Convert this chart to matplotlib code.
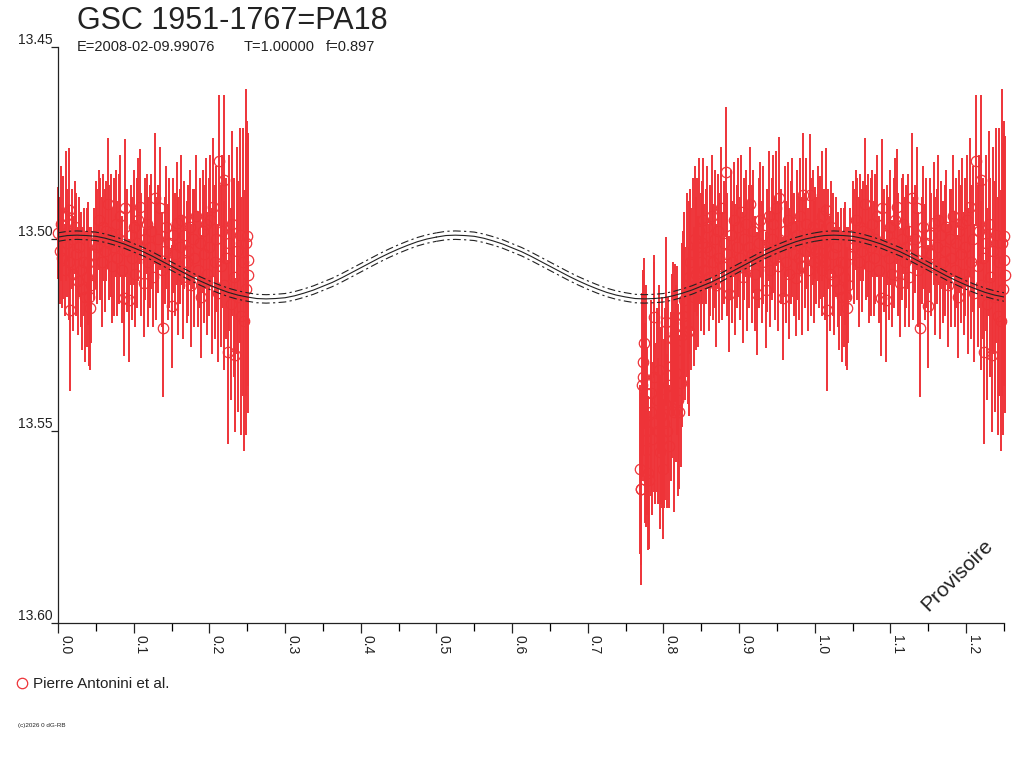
import numpy as np
import matplotlib
matplotlib.use("Agg")
import matplotlib.pyplot as plt
import matplotlib.transforms as mtransforms

plt.rcParams['font.family'] = ['Liberation Sans', 'DejaVu Sans']

RED = '#ee3338'

# first part of the cycle (also shown again at phase + 1)
phase_a = [0.000, 0.002, 0.004, 0.005, 0.007, 0.009, 0.010, 0.012, 0.014, 0.015,
           0.016, 0.018, 0.020, 0.022, 0.024, 0.026, 0.028, 0.030, 0.032, 0.034,
           0.036, 0.038, 0.040, 0.041, 0.042, 0.044, 0.047, 0.050, 0.052, 0.054,
           0.056, 0.058, 0.060, 0.062, 0.064, 0.066, 0.068, 0.070, 0.072, 0.074,
           0.076, 0.078, 0.080, 0.082, 0.085, 0.087, 0.089, 0.091, 0.094, 0.096,
           0.098, 0.100, 0.102, 0.104, 0.106, 0.108, 0.110, 0.113, 0.115, 0.117,
           0.119, 0.121, 0.123, 0.125, 0.128, 0.130, 0.132, 0.135, 0.137, 0.139,
           0.141, 0.143, 0.145, 0.147, 0.150, 0.152, 0.154, 0.157, 0.159, 0.161,
           0.163, 0.165, 0.167, 0.170, 0.172, 0.174, 0.176, 0.178, 0.180, 0.183,
           0.185, 0.187, 0.189, 0.191, 0.193, 0.195, 0.197, 0.199, 0.201, 0.203,
           0.205, 0.207, 0.209, 0.211, 0.213, 0.215, 0.217, 0.219, 0.220, 0.222,
           0.224, 0.226, 0.228, 0.230, 0.232, 0.234, 0.236, 0.238, 0.240, 0.242,
           0.244, 0.246, 0.248, 0.249, 0.250, 0.2505, 0.2508]
mag_a = [13.4985, 13.5030, 13.4960, 13.5050, 13.4995, 13.5080, 13.4940, 13.5010, 13.5060, 13.4924,
         13.5186, 13.5000, 13.5090, 13.4970, 13.5040, 13.5110, 13.5020, 13.5080, 13.5130, 13.5060,
         13.5150, 13.5100, 13.5063, 13.5150, 13.5180, 13.5120, 13.5040, 13.4990, 13.5020, 13.4950,
         13.5000, 13.5060, 13.4970, 13.5030, 13.4980, 13.4908, 13.5010, 13.4990, 13.5070, 13.5020,
         13.4960, 13.5050, 13.5000, 13.4940, 13.5080, 13.5154, 13.4920, 13.5030, 13.5160, 13.4990,
         13.5050, 13.4970, 13.5090, 13.5010, 13.4950, 13.4916, 13.5040, 13.5115, 13.5000, 13.4960,
         13.5060, 13.5020, 13.4980, 13.5100, 13.4893, 13.5050, 13.5000, 13.4920, 13.5080, 13.5232,
         13.5030, 13.4970, 13.5060, 13.5010, 13.5175, 13.4990, 13.5040, 13.4959, 13.5070, 13.5020,
         13.4950, 13.5100, 13.4990, 13.5060, 13.5030, 13.4970, 13.5120, 13.5000, 13.5050, 13.4940,
         13.5080, 13.5010, 13.5150, 13.4980, 13.5040, 13.4960, 13.5090, 13.5020, 13.4950, 13.5110,
         13.4916, 13.5060, 13.5000, 13.5140, 13.4796, 13.5070, 13.4980, 13.5120, 13.4846, 13.5050,
         13.5294, 13.5010, 13.5170, 13.4960, 13.5100, 13.5302, 13.5030, 13.5150, 13.4990, 13.5200,
         13.5060, 13.5213, 13.5010, 13.5130, 13.4993, 13.5054, 13.5093]
err_a = [0.012, 0.014, 0.015, 0.013, 0.016, 0.012, 0.017, 0.014, 0.015, 0.016,
         0.021, 0.013, 0.015, 0.012, 0.016, 0.014, 0.013, 0.015, 0.016, 0.014,
         0.017, 0.018, 0.016, 0.018, 0.016, 0.015, 0.012, 0.014, 0.015, 0.013,
         0.016, 0.017, 0.014, 0.016, 0.013, 0.017, 0.015, 0.016, 0.015, 0.018,
         0.014, 0.015, 0.017, 0.016, 0.014, 0.015, 0.018, 0.016, 0.016, 0.013,
         0.016, 0.015, 0.014, 0.017, 0.016, 0.015, 0.016, 0.014, 0.016, 0.013,
         0.017, 0.016, 0.015, 0.013, 0.017, 0.016, 0.014, 0.016, 0.015, 0.018,
         0.014, 0.016, 0.015, 0.017, 0.016, 0.015, 0.016, 0.016, 0.018, 0.015,
         0.017, 0.016, 0.014, 0.016, 0.017, 0.015, 0.016, 0.013, 0.018, 0.016,
         0.015, 0.017, 0.016, 0.016, 0.018, 0.017, 0.016, 0.018, 0.017, 0.019,
         0.018, 0.020, 0.019, 0.018, 0.017, 0.021, 0.020, 0.022, 0.022, 0.021,
         0.024, 0.023, 0.025, 0.024, 0.026, 0.020, 0.027, 0.030, 0.028, 0.031,
         0.035, 0.034, 0.040, 0.038, 0.030, 0.033, 0.036]

# eclipse and the rest of the cycle
phase_b = [0.7685, 0.7697, 0.7705, 0.7715, 0.7727, 0.7735, 0.7745, 0.7755, 0.7765, 0.7775,
           0.7785, 0.7800, 0.7815, 0.7830, 0.7840, 0.7855, 0.7870, 0.7880, 0.7895, 0.7910,
           0.7925, 0.7935, 0.7950, 0.7965, 0.7975, 0.7985, 0.7990, 0.8005, 0.8020, 0.8035,
           0.8045, 0.8060, 0.8080, 0.8095, 0.8110, 0.8120, 0.8135, 0.8150, 0.8165, 0.8180,
           0.8195, 0.8210, 0.8230, 0.8245, 0.8260, 0.8275, 0.8290, 0.8305, 0.8320, 0.8335,
           0.8340, 0.8355, 0.8370, 0.8385, 0.8400, 0.8415, 0.8430, 0.8445, 0.8460, 0.8475,
           0.8490, 0.8505,
           0.852, 0.854, 0.856, 0.858, 0.860, 0.862, 0.864, 0.866, 0.868, 0.870,
           0.872, 0.874, 0.876, 0.878, 0.880, 0.8827, 0.884, 0.887, 0.889, 0.891,
           0.893, 0.895, 0.897, 0.899, 0.901, 0.903, 0.905, 0.907, 0.909, 0.911,
           0.913, 0.915, 0.917, 0.919, 0.921, 0.924, 0.926, 0.928, 0.930, 0.932,
           0.935, 0.937, 0.939, 0.941, 0.943, 0.945, 0.947, 0.949, 0.951, 0.953,
           0.955, 0.958, 0.960, 0.962, 0.964, 0.966, 0.968, 0.970, 0.972, 0.975,
           0.977, 0.979, 0.981, 0.983, 0.985, 0.987, 0.989, 0.991, 0.993, 0.995,
           0.997, 0.999]
mag_b = [13.5600, 13.5650, 13.5650, 13.5380, 13.5360, 13.5320, 13.5270, 13.5480, 13.5550, 13.5400,
         13.5500, 13.5610, 13.5628, 13.5450, 13.5400, 13.5520, 13.5360, 13.5202, 13.5480, 13.5420,
         13.5500, 13.5340, 13.5554, 13.5460, 13.5520, 13.5390, 13.5600, 13.5480, 13.5430, 13.5215,
         13.5500, 13.5380, 13.5540, 13.5410, 13.5330, 13.5260, 13.5450, 13.5245, 13.5350, 13.5290,
         13.5420, 13.5450, 13.5374, 13.5250, 13.5200, 13.5160, 13.5220, 13.5120, 13.5240, 13.5100,
         13.5240, 13.5060, 13.5130, 13.5040, 13.5150, 13.5000, 13.5090, 13.5020, 13.5110, 13.4980,
         13.5060, 13.5010,
         13.4950, 13.5080, 13.5020, 13.4970, 13.5100, 13.5030, 13.4940, 13.5060, 13.5000, 13.5120,
         13.4980, 13.5050, 13.4920, 13.5070, 13.5010, 13.4825, 13.5040, 13.5143, 13.4990, 13.5060,
         13.4950, 13.5080, 13.5020, 13.4970, 13.5050, 13.4930, 13.5100, 13.5000, 13.4960, 13.5070,
         13.5020, 13.4910, 13.5040, 13.4980, 13.5090, 13.5143, 13.5010, 13.4950, 13.5060, 13.4990,
         13.5133, 13.5030, 13.4940, 13.5080, 13.5000, 13.4960, 13.5050, 13.4920, 13.5070, 13.4894,
         13.5020, 13.5154, 13.4980, 13.5060, 13.4950, 13.5090, 13.5010, 13.4970, 13.5040, 13.5102,
         13.4990, 13.5050, 13.4940, 13.5070, 13.4885, 13.5030, 13.4960, 13.5080, 13.4886, 13.5020,
         13.4970, 13.5060]
err_b = [0.022, 0.025, 0.020, 0.024, 0.027, 0.024, 0.022, 0.026, 0.020, 0.028,
         0.022, 0.020, 0.018, 0.022, 0.024, 0.020, 0.030, 0.016, 0.021, 0.024,
         0.019, 0.022, 0.020, 0.023, 0.018, 0.024, 0.018, 0.022, 0.025, 0.022,
         0.020, 0.023, 0.016, 0.022, 0.024, 0.020, 0.026, 0.018, 0.023, 0.022,
         0.025, 0.020, 0.022, 0.024, 0.022, 0.023, 0.020, 0.024, 0.019, 0.020,
         0.022, 0.019, 0.021, 0.020, 0.018, 0.019, 0.020, 0.018, 0.017, 0.019,
         0.018, 0.016,
         0.016, 0.017, 0.015, 0.016, 0.014, 0.017, 0.016, 0.015, 0.018, 0.016,
         0.015, 0.017, 0.016, 0.014, 0.016, 0.017, 0.016, 0.015, 0.017, 0.016,
         0.015, 0.017, 0.016, 0.018, 0.016, 0.015, 0.017, 0.016, 0.014, 0.017,
         0.016, 0.015, 0.018, 0.016, 0.015, 0.016, 0.017, 0.015, 0.016, 0.018,
         0.015, 0.016, 0.017, 0.015, 0.016, 0.018, 0.016, 0.015, 0.017, 0.016,
         0.015, 0.016, 0.017, 0.016, 0.015, 0.017, 0.016, 0.018, 0.016, 0.015,
         0.017, 0.016, 0.015, 0.018, 0.016, 0.015, 0.017, 0.016, 0.016, 0.018,
         0.015, 0.016]

# model light curve over half a cycle (repeats every 0.5)
model_phase = [0.0000, 0.0125, 0.0250, 0.0375, 0.0500, 0.0625, 0.0750, 0.0875, 0.1000, 0.1125,
               0.1250, 0.1375, 0.1500, 0.1625, 0.1750, 0.1875, 0.2000, 0.2125, 0.2250, 0.2375,
               0.2500, 0.2625, 0.2750, 0.2875, 0.3000, 0.3125, 0.3250, 0.3375, 0.3500, 0.3625,
               0.3750, 0.3875, 0.4000, 0.4125, 0.4250, 0.4375, 0.4500, 0.4625, 0.4750, 0.4875,
               0.5000]
model_mag = [13.4995, 13.4991, 13.4990, 13.4991, 13.4993, 13.4998, 13.5005, 13.5013, 13.5023, 13.5033,
             13.5045, 13.5058, 13.5071, 13.5084, 13.5097, 13.5109, 13.5120, 13.5130, 13.5139, 13.5146,
             13.5151, 13.5155, 13.5156, 13.5155, 13.5153, 13.5148, 13.5141, 13.5133, 13.5123, 13.5113,
             13.5101, 13.5088, 13.5075, 13.5062, 13.5049, 13.5037, 13.5026, 13.5016, 13.5007, 13.5000,
             13.4995]
model_band = 0.0011

x_ticks = [0.0, 0.1, 0.2, 0.3, 0.4, 0.5, 0.6, 0.7, 0.8, 0.9, 1.0, 1.1, 1.2]
y_ticks = [13.45, 13.50, 13.55, 13.60]

fig = plt.figure(figsize=(10.24, 7.68), dpi=100)
ax = fig.add_axes([58 / 1024, 1 - 623 / 768, 946 / 1024, 576 / 768])

pa = np.array(phase_a)
ma = np.array(mag_a)
ea = np.array(err_a)
pb = np.array(phase_b)
mb = np.array(mag_b)
eb = np.array(err_b)

sets = [(pa, ma, ea), (pa + 1.0, ma, ea), (pb, mb, eb)]
# circles first, error bars drawn over them
for px, my, ey in sets:
    ax.plot(px, my, 'o', ms=7.5, mfc='none', mec=RED, mew=0.9, zorder=2, clip_on=False)
for px, my, ey in sets:
    ax.vlines(px, my - ey, my + ey, colors=RED, linewidth=1.4, zorder=2.5, clip_on=False)

mp = np.array(model_phase)
mm = np.array(model_mag)
for shift in (0.0, 0.5, 1.0):
    x = mp + shift
    keep = x <= 1.25
    ax.plot(x[keep], mm[keep], color='#222222', lw=0.8, zorder=3)
    ax.plot(x[keep], mm[keep] - model_band, color='#222222', lw=0.8, dashes=(7, 3, 2, 3), zorder=3)
    ax.plot(x[keep], mm[keep] + model_band, color='#222222', lw=0.8, dashes=(7, 3, 2, 3), zorder=3)

ax.set_xlim(0, 1.25)
ax.set_ylim(13.60, 13.45)
for s in ('top', 'right'):
    ax.spines[s].set_visible(False)
for s in ('left', 'bottom'):
    ax.spines[s].set_linewidth(0.9)
    ax.spines[s].set_color('#222222')

ax.set_xticks(x_ticks)
ax.set_xticklabels(['%.1f' % v for v in x_ticks])
ax.set_xticks(np.arange(0.05, 1.26, 0.1), minor=True)
ax.tick_params(axis='x', which='major', direction='out', length=7.5, width=0.9, pad=1,
               labelsize=10, colors='#222222')
ax.tick_params(axis='x', which='minor', direction='out', length=6, width=0.9)
for lab in ax.get_xticklabels():
    lab.set_rotation(-90)
    lab.set_ha('left')
    lab.set_va('top')

ax.set_yticks(y_ticks)
ax.set_yticklabels([])
ax.tick_params(axis='y', direction='out', length=5, width=0.9, colors='#222222')
off = mtransforms.ScaledTranslation(-5 / 100, 0, fig.dpi_scale_trans)
ytr = mtransforms.blended_transform_factory(ax.transAxes, ax.transData) + off
for v in y_ticks:
    ax.text(0, v, '%.2f' % v, transform=ytr, ha='right', va='bottom', fontsize=10,
            color='#222222')

fig.text(77 / 1024, 1 - 29 / 768, 'GSC 1951-1767=PA18', fontsize=22, color='#222222',
         ha='left', va='baseline')
sub_parts = [('E=2008-02-09.99076', 77), ('T=1.00000', 244), ('f=0.897', 326)]
for txt, px in sub_parts:
    fig.text(px / 1024, 1 - 51 / 768, txt, fontsize=10.5, color='#222222',
             ha='left', va='baseline')

fig.text(957 / 1024, 1 - 575 / 768, 'Provisoire', fontsize=15, rotation=45,
         ha='center', va='center', color='#222222')

fig.lines.append(plt.Line2D([22 / 1024], [1 - 683 / 768], marker='o', ms=7.5, mfc='none',
                            mec=RED, mew=0.9, transform=fig.transFigure))
fig.text(33 / 1024, 1 - 688 / 768, 'Pierre Antonini et al.', fontsize=11, color='#222222',
         ha='left', va='baseline')
fig.text(18 / 1024, 1 - 727 / 768, '(c)2026 0 dG-RB', fontsize=4.5, color='#222222',
         ha='left', va='baseline')

fig.savefig('out.png', dpi=100)
